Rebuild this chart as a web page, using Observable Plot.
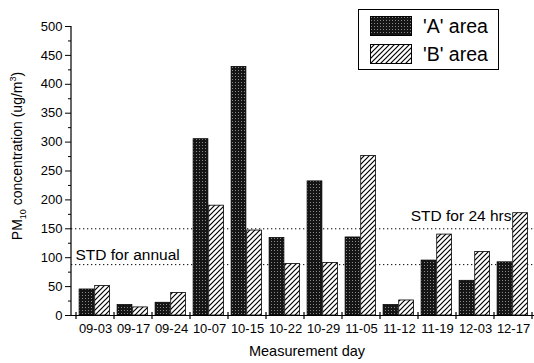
<!DOCTYPE html>
<html><head><meta charset="utf-8">
<script src="https://cdn.jsdelivr.net/npm/d3@7"></script>
<script src="https://cdn.jsdelivr.net/npm/@observablehq/plot@0.6"></script>
<style>
body{margin:0;background:#fff;font-family:"Liberation Sans",Arial,sans-serif;color:#000;}
#wrap{position:relative;width:534px;height:363px;overflow:hidden;}
#wrap svg.plot{position:absolute;left:0;top:0;}
#legend{position:absolute;left:358px;top:9px;width:141px;height:61px;border:1px solid #000;background:#fff;box-sizing:border-box;}
#legend .row{position:absolute;left:11px;height:20px;display:flex;align-items:center;}
#legend .row span{margin-left:11px;font-size:19.5px;line-height:20px;}
#ylabel{position:absolute;left:18px;top:156px;transform:translate(-50%,-50%) rotate(-90deg);white-space:nowrap;font-size:14px;}
#ylabel sub,#ylabel sup{font-size:9px;}
#xlabel{position:absolute;left:307px;top:343px;transform:translateX(-50%);white-space:nowrap;font-size:14.5px;}
</style></head><body>
<div id="wrap"></div>
<script>
const days = ["09-03","09-17","09-24","10-07","10-15","10-22","10-29","11-05","11-12","11-19","12-03","12-17"];
const areaA = [45, 18, 22, 305, 430, 134, 232, 135, 18, 95, 60, 92];
const areaB = [51, 14, 39, 190, 147, 89, 91, 276, 26, 140, 110, 177];
const areaNames = ["'A' area", "'B' area"];
const yTicks = [0, 50, 100, 150, 200, 250, 300, 350, 400, 450, 500];
const stdValues = [150, 88];
const stdLabels = ["STD for 24 hrs", "STD for annual"];

const W = 534, H = 363, mL = 71, mR = -3, mT = 26, mB = 48;
const bw = (W - mL - mR) / days.length;
const barW = 15.6;

const dataA = days.map((d, i) => ({day: d, value: areaA[i]}));
const dataB = days.map((d, i) => ({day: d, value: areaB[i]}));
const minorTicks = yTicks.slice(0, -1).map(t => t + 25);

const defs = () => {
  const ns = "http://www.w3.org/2000/svg";
  const g = document.createElementNS(ns, "defs");
  g.innerHTML = `
  <pattern id="patA" patternUnits="userSpaceOnUse" width="3" height="3">
    <rect width="3" height="3" fill="#151515"/>
    <rect x="1" y="1" width="1" height="1" fill="#8a8a8a"/>
  </pattern>
  <pattern id="patB" patternUnits="userSpaceOnUse" width="5" height="5">
    <rect width="5" height="5" fill="#fff"/>
    <path d="M-1,6 L6,-1 M-1,1 L1,-1 M4,6 L6,4" stroke="#000" stroke-width="1.2"/>
  </pattern>`;
  return g;
};

const axisLines = (index, scales, values, dims) => {
  const ns = "http://www.w3.org/2000/svg";
  const g = document.createElementNS(ns, "g");
  const sx = scales.x, sy = scales.y;
  const x0 = sx(days[0]);
  const step = sx(days[1]) - sx(days[0]);
  const yb = sy(0);
  let d = `M${dims.marginLeft},${dims.marginTop}V${yb}`;
  for (let i = 0; i <= days.length; i++) {
    const x = x0 + i * step;
    d += `M${x},${yb - 3}V${yb + 4}`;
  }
  const p = document.createElementNS(ns, "path");
  p.setAttribute("d", d);
  p.setAttribute("stroke", "#000");
  p.setAttribute("stroke-width", "1.2");
  p.setAttribute("fill", "none");
  g.appendChild(p);
  return g;
};

const chart = Plot.plot({
  width: W, height: H,
  marginLeft: mL, marginRight: mR, marginTop: mT, marginBottom: mB,
  style: {fontFamily: "'Liberation Sans', Arial, sans-serif", fontSize: "13px", color: "#000", background: "transparent", overflow: "visible"},
  x: {domain: days, padding: 0, label: null},
  y: {domain: [0, 500], label: null},
  marks: [
    defs,
    Plot.ruleY(stdValues, {stroke: "#000", strokeWidth: 1, strokeDasharray: "1.3,2.7"}),
    Plot.barY(dataA, {x: "day", y: "value", fill: "url(#patA)", stroke: "#000", strokeWidth: 0.8,
      insetLeft: bw / 2 - barW - 0.7, insetRight: bw / 2 + 0.7}),
    Plot.barY(dataB, {x: "day", y: "value", fill: "url(#patB)", stroke: "#000", strokeWidth: 0.8,
      insetLeft: bw / 2 - 0.7, insetRight: bw / 2 - barW + 0.7}),
    Plot.ruleY([0], {stroke: "#000", strokeWidth: 1.2}),
    axisLines,
    Plot.axisY({ticks: yTicks, tickSize: 6, tickPadding: 3, fontSize: 13, label: null}),
    Plot.axisY({ticks: minorTicks, tickSize: 3, tickFormat: () => "", label: null}),
    Plot.axisX({tickSize: 0, tickPadding: 8, fontSize: 13, label: null}),
    Plot.text([stdLabels[1]], {frameAnchor: "left", y: stdValues[1], text: d => d, textAnchor: "start", dx: 4, dy: -10, fontSize: 15.5}),
    Plot.text([stdLabels[0]], {frameAnchor: "right", y: stdValues[0], text: d => d, textAnchor: "end", dx: -26, dy: -13, fontSize: 15.5})
  ]
});
chart.classList.add("plot");
const wrap = document.getElementById("wrap");
wrap.appendChild(chart);

const legend = document.createElement("div");
legend.id = "legend";
const fills = ["url(#patA)", "url(#patB)"];
areaNames.forEach((name, i) => {
  const row = document.createElement("div");
  row.className = "row";
  row.style.top = (6 + i * 28) + "px";
  row.innerHTML = `<svg width="42" height="20"><rect x="0.5" y="0.5" width="41" height="19" fill="${fills[i]}" stroke="#000"/></svg><span>${name}</span>`;
  legend.appendChild(row);
});
wrap.appendChild(legend);

const yl = document.createElement("div");
yl.id = "ylabel";
yl.innerHTML = "PM<sub>10</sub> concentration (ug/m<sup>3</sup>)";
wrap.appendChild(yl);

const xl = document.createElement("div");
xl.id = "xlabel";
xl.textContent = "Measurement day";
wrap.appendChild(xl);
</script>
</body></html>
